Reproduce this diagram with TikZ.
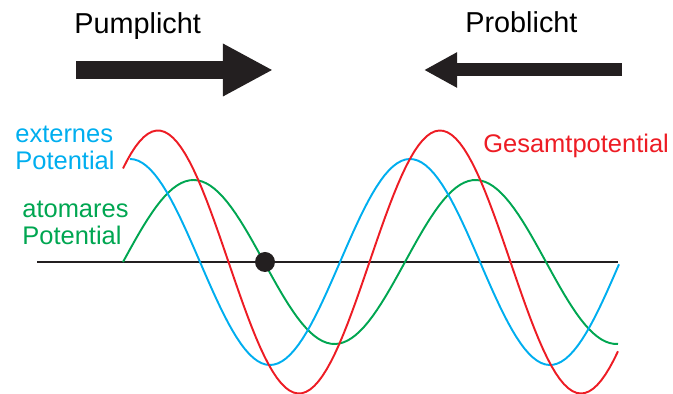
\documentclass[tikz,border=0pt]{standalone}
\usepackage{fontspec}
\setsansfont{Liberation Sans}
\usetikzlibrary{arrows.meta, positioning}

\definecolor{extblue}{HTML}{00AEEF}
\definecolor{atomgreen}{HTML}{00A651}
\definecolor{sumred}{HTML}{ED1C24}
\definecolor{beamblack}{HTML}{231F20}

\begin{document}
\begin{tikzpicture}[
    x=0.02cm, y=-0.02cm,
    font=\sffamily,
    title/.style={font=\sffamily\fontsize{16.4}{19}\selectfont, inner sep=0pt, anchor=base west},
    label/.style={font=\sffamily\fontsize{14.5}{15.9}\selectfont, inner sep=0pt, anchor=base west, align=left},
    curve/.style={line width=1.1pt},
    beam/.style={draw=beamblack, line cap=butt}
]
\useasboundingbox (0,0) rectangle (673,394);

% light beams
\node[title] (pump) at (74,34) {Pumplicht};
\node[title] (probe) at (465,33) {Problicht};
\coordinate (pumptail) at (76,70);
\coordinate (pumptip) at (273,70);
\coordinate (probetail) at (622,70);
\coordinate (probetip) at (424,70);
\draw[beam, line width=10.2pt, -{Triangle[length=28.5pt, width=27.9pt]}] (pumptail) -- (pumptip);
\draw[beam, line width=7.4pt, -{Triangle[length=18.8pt, width=18.8pt]}] (probetail) -- (probetip);

% axis and potentials
\coordinate (axl) at (37,262);
\coordinate (axr) at (618,262);
\draw[line width=0.85pt, beamblack] (axl) -- (axr);

\draw[curve, atomgreen] plot[domain=123:618, samples=120] (\x, {262 - 82*sin((\x-123)/282*360)});
\draw[curve, extblue] plot[domain=130:619, samples=120] (\x, {262 - 103*cos((\x-130)/280*360)});
\draw[curve, sumred] plot[domain=123:618, samples=120] (\x, {262 - 131.5*cos((\x-158)/282*360)});

\fill[beamblack] (265,262) circle[radius=10];

% labels
\node[label, text=extblue] (ext) at (15,170) {externes\\Potential};
\node[label, text=atomgreen] (atom) at (22,245) {atomares\\Potential};
\node[label, text=sumred] (sum) at (483,153) {Gesamtpotential};

\end{tikzpicture}
\end{document}
